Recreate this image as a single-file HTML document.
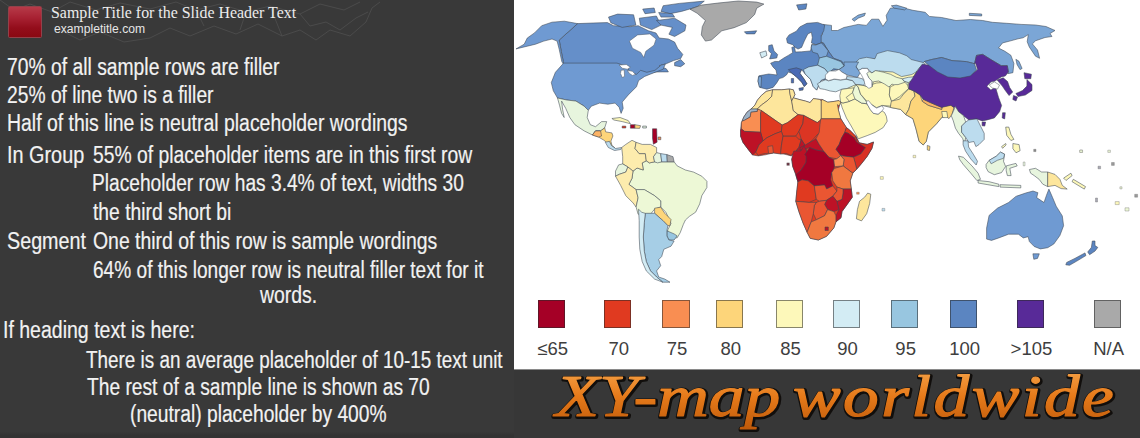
<!DOCTYPE html>
<html><head><meta charset="utf-8"><title>slide</title>
<style>
html,body{margin:0;padding:0}
body{width:1140px;height:438px;overflow:hidden;background:#373737;position:relative;font-family:"Liberation Sans",sans-serif}
#left{position:absolute;left:0;top:0;width:514px;height:438px;background:#393939;overflow:hidden}
#hdr{position:absolute;left:0;top:0;width:514px;height:50px}
#logo{position:absolute;left:7.7px;top:6.3px;width:34.4px;height:31.3px;border:1px solid #93414a;border-radius:1.5px;background:linear-gradient(180deg,#b63a48 0,#a82233 35%,#930d1b 70%,#8a0812 100%);box-sizing:border-box}
#t1{position:absolute;left:51px;top:3.9px;font:16px/18px "Liberation Serif",serif;color:#ececec;white-space:nowrap;transform-origin:0 0;transform:scaleX(.994)}
#t2{position:absolute;left:54px;top:21.6px;font:12px/14px "Liberation Sans",sans-serif;color:#e6e6e6;white-space:nowrap;transform-origin:0 0;transform:scaleX(1.012)}
.ln{position:absolute;font-size:23px;line-height:26px;-webkit-text-stroke:.2px #f2f2f2;color:#f2f2f2;white-space:nowrap;transform-origin:0 0;display:inline-block}
#map{position:absolute;left:514px;top:0;width:626px;height:370px;background:#fff;border-bottom:1px solid #8a8a8a;box-sizing:border-box;overflow:hidden}
#map svg{position:absolute;left:-514px;top:0}
.sw{position:absolute;top:300px;width:27.5px;height:28px;box-sizing:border-box;border:1px solid rgba(40,40,40,.55)}
.lb{position:absolute;top:339.4px;width:67.5px;text-align:center;font-size:18.5px;line-height:20px;color:#3e3e3e}
#ttl{position:absolute;left:514px;top:369px;width:626px;height:69px}
</style></head><body>
<div id="left">
<svg id="hdr" viewBox="0 0 514 50"><g fill="none" stroke="#626262" stroke-width=".8" opacity=".55">
<path d="M0 0 L14 10 30 4 52 12 70 2 96 10 120 3 150 9 176 2"/>
<path d="M150 38 L170 28 190 36 214 26 236 34 258 24 282 36 300 30 316 40 330 30 350 36 366 22 372 8 380 2"/>
<path d="M176 2 L196 10 220 4 246 12 270 6 300 14 320 4 344 10 360 2"/>
<path d="M300 14 L310 26 326 22 340 30 356 18 368 12"/>
<path d="M60 30 L80 40 100 32 124 42 150 38"/>
<path d="M196 10 L204 26 M246 12 L240 30 M270 6 L282 36"/>
</g></svg>
<div id="logo"></div>
<div id="t1">Sample Title for the Slide Header Text</div>
<div id="t2">exampletitle.com</div>
<span class="ln" style="left:7.4px;top:53.9px;transform:scaleX(0.8393)">70% of all sample rows are filler</span>
<span class="ln" style="left:7.4px;top:82.3px;transform:scaleX(0.8370)">25% of line two is a filler</span>
<span class="ln" style="left:7.4px;top:110.0px;transform:scaleX(0.8444)">Half of this line is neutral placeholder wordings</span>
<span class="ln" style="left:7.4px;top:141.7px;transform:scaleX(0.8626)">In Group</span>
<span class="ln" style="left:92.7px;top:141.7px;transform:scaleX(0.8403)">55% of placeholder items are in this first row</span>
<span class="ln" style="left:92.1px;top:170.0px;transform:scaleX(0.8333)">Placeholder row has 3.4% of text, widths 30</span>
<span class="ln" style="left:92.7px;top:199.2px;transform:scaleX(0.8380)">the third short bi</span>
<span class="ln" style="left:7.4px;top:227.7px;transform:scaleX(0.8582)">Segment</span>
<span class="ln" style="left:92.7px;top:227.7px;transform:scaleX(0.8441)">One third of this row is sample wordings</span>
<span class="ln" style="left:93.4px;top:257.3px;transform:scaleX(0.8301)">64% of this longer row is neutral filler text for it</span>
<span class="ln" style="left:259.7px;top:282.3px;transform:scaleX(0.8444)">words.</span>
<span class="ln" style="left:2.9px;top:317.2px;transform:scaleX(0.8484)">If heading text is here:</span>
<span class="ln" style="left:86.3px;top:346.7px;transform:scaleX(0.8207)">There is an average placeholder of 10-15 text unit</span>
<span class="ln" style="left:87.2px;top:373.7px;transform:scaleX(0.8351)">The rest of a sample line is shown as 70</span>
<span class="ln" style="left:130.3px;top:400.7px;transform:scaleX(0.8362)">(neutral) placeholder by 400%</span>
<div style="position:absolute;left:0;top:431px;width:514px;height:7px;background:linear-gradient(180deg,#3a3a3a,#333 60%)"></div>
</div>
<div id="map">
<svg width="1140" height="369" viewBox="0 0 1140 369">
<g stroke="#3c4650" stroke-width=".55" stroke-linejoin="round">
<polygon points="577.6,23.6 593.0,23.0 607.4,22.6 613.6,25.7 630.0,26.7 638.2,25.7 648.5,30.8 656.0,33.0 659.2,38.0 668.4,39.0 674.6,42.1 677.6,48.3 682.8,54.4 680.7,58.5 673.5,60.6 666.3,63.7 659.2,65.7 666.3,68.8 668.4,71.9 662.2,71.9 656.0,72.0 646.8,74.0 636.5,76.0 626.0,68.0 617.0,64.0 563.6,64.0 563.3,61.6 561.3,51.3 559.2,40.0" fill="#658fc9"/>
<polygon points="674.6,62.6 680.7,59.6 684.8,63.7 680.7,66.7 674.6,65.7" fill="#658fc9"/>
<polygon points="608.5,17.1 617.6,14.1 633.6,14.8 635.9,25.1 622.2,27.4 610.8,22.8" fill="#658fc9"/>
<polygon points="639.3,18.2 656.4,16.0 661.0,25.1 651.8,29.6 640.4,25.1" fill="#658fc9"/>
<polygon points="656.4,20.5 674.6,18.2 686.0,25.1 684.9,30.8 674.6,36.5 668.9,34.2 672.4,27.4 661.0,25.1" fill="#658fc9"/>
<polygon points="663.2,5.7 679.2,3.4 704.3,1.1 697.4,6.8 681.5,11.4 670.1,13.7 661.0,11.4" fill="#658fc9"/>
<polygon points="658.7,12.5 672.4,13.7 674.6,17.1 661.0,17.1" fill="#658fc9"/>
<polygon points="642.7,9.1 654.1,8.0 655.3,12.5 645.0,13.7" fill="#658fc9"/>
<polygon points="516.0,48.9 524.2,44.2 527.3,38.0 534.5,32.9 541.7,25.7 552.0,22.2 564.3,21.2 577.6,23.6 559.2,40.0 561.2,51.3 563.3,61.6 564.3,65.7 561.8,61.6 559.2,49.3 557.1,41.1 552.0,39.0 543.8,41.1 535.5,44.2 527.3,46.2" fill="#6f9ad2"/>
<polygon points="563.6,63.1 555.4,72.3 551.3,82.6 553.3,90.8 557.5,98.0 566.7,100.0 575.9,101.1 584.2,106.2 588.3,110.3 591.3,106.2 599.6,103.1 607.8,104.2 615.0,103.1 619.1,107.2 621.1,113.4 623.2,108.3 622.2,102.1 628.3,94.9 636.5,86.7 638.6,80.5 644.7,76.4 655.0,72.3 663.2,69.2 665.3,64.1 661.2,65.1 655.0,70.3 646.8,72.3 640.6,70.3 636.5,74.4 630.4,72.3 626.3,66.2 617.0,63.1" fill="#6f9ad2"/>
<polygon points="557.5,98.0 566.7,100.0 575.9,101.1 584.2,106.2 588.3,110.3 587.2,117.5 590.3,124.7 595.5,126.7 601.6,121.6 606.7,121.6 604.7,127.8 600.6,130.9 595.5,130.9 592.4,135.0 584.2,130.9 574.9,124.7 569.8,117.5 565.7,108.3 561.6,101.1 562.6,109.3 564.2,117.5 561.6,113.4 559.5,105.2" fill="#e7f5de"/>
<polygon points="595.5,130.9 600.6,130.9 604.7,127.8 605.7,131.9 611.9,132.9 612.9,136.0 610.9,141.1 611.9,145.2 615.0,148.3 608.8,144.2 603.7,140.1 598.5,137.0 592.4,135.0" fill="#fdd57a"/>
<polygon points="595.5,130.9 600.6,130.9 601.6,136.0 598.5,137.0 592.4,135.0" fill="#fbb365"/>
<polygon points="605.3,142.3 609.4,141.3 611.4,145.4 615.5,148.5 621.7,147.5 620.7,149.5 614.5,150.5 608.3,147.5" fill="#bcdcee"/>
<polygon points="611.9,118.5 620.1,117.5 628.3,120.6 630.4,123.7 622.2,121.6 613.9,120.0" fill="#fdf8ba"/>
<polygon points="630.4,124.7 634.9,124.7 634.9,128.2 630.4,128.2" fill="#a50026"/>
<polygon points="634.9,124.7 640.6,125.7 639.6,128.4 634.9,128.2" fill="#fdd57a"/>
<polygon points="622.2,126.1 625.8,126.1 625.8,128.0 622.2,128.0" fill="#e03a20"/>
<polygon points="642.7,126.1 646.4,126.1 646.4,128.0 642.7,128.0" fill="#e7f5de"/>
<polygon points="652.5,128.8 656.7,128.8 657.1,142.2 653.4,144.2 652.5,138.0" fill="#a50026"/>
<polygon points="658.1,137.0 660.8,137.0 660.8,139.7 658.1,139.7" fill="#f98e52"/>
<polygon points="690.0,9.2 701.3,5.1 717.7,3.1 738.2,1.0 756.7,2.1 763.9,4.1 756.7,8.2 754.7,14.4 746.4,22.6 734.1,27.7 721.8,30.8 711.5,40.0 705.4,41.1 701.3,34.9 702.3,26.7 705.4,20.5 697.2,13.3" fill="#a9a9a9"/>
<polygon points="744.4,31.8 756.7,30.8 754.7,33.9 746.4,33.9" fill="#5b85c1"/>
<polygon points="654.6,161.8 661.7,161.8 667.3,161.8 674.1,161.8 677.2,165.9 685.4,170.0 693.6,172.1 701.8,176.2 706.9,181.3 706.9,187.5 701.8,195.7 699.7,203.9 695.6,212.2 689.5,216.3 685.4,220.0 683.3,224.5 680.2,232.7 677.2,237.8 674.1,237.8 666.9,234.7 667.9,229.6 671.0,223.4 665.9,212.2 660.7,207.0 660.7,200.9 654.6,195.7 644.3,189.6 636.1,189.6 628.9,184.4 632.0,178.3 633.0,171.1 637.1,168.0 643.3,170.0 642.2,162.9 646.3,160.8 649.4,162.9" fill="#edf8d6"/>
<polygon points="621.7,147.5 625.8,144.4 632.0,140.3 636.1,142.3 635.0,148.5 639.2,153.6 645.3,153.6 646.3,160.8 642.2,162.9 643.3,170.0 637.1,168.0 633.0,171.1 627.9,167.0 622.7,163.9 622.7,156.7" fill="#fdecad"/>
<polygon points="636.1,142.3 642.2,144.4 650.5,144.4 656.6,147.5 656.6,152.6 653.5,156.7 654.6,161.8 649.4,162.9 646.3,160.8 645.3,153.6 639.2,153.6 635.0,148.5" fill="#fdecad"/>
<polygon points="656.6,152.6 660.7,153.6 661.7,161.8 657.6,162.9 654.6,161.8 653.5,156.7" fill="#e7f5de"/>
<polygon points="660.7,153.6 666.9,154.6 667.3,161.8 661.7,161.8" fill="#bcdcee"/>
<polygon points="666.9,154.6 673.0,156.7 674.1,161.8 667.3,161.8" fill="#a9a9a9"/>
<polygon points="622.7,163.9 627.9,167.0 625.8,172.1 619.6,174.2 615.5,176.2 615.5,171.1 618.6,164.9" fill="#e7f5de"/>
<polygon points="615.5,176.2 619.6,174.2 625.8,172.1 627.9,167.0 633.0,171.1 632.0,178.3 628.9,184.4 636.1,189.6 638.1,197.8 636.1,207.0 633.0,202.9 625.8,195.7 620.7,185.5" fill="#fdecad"/>
<polygon points="636.1,189.6 644.3,189.6 654.6,195.7 660.7,200.9 660.7,207.0 654.6,209.1 650.5,214.2 642.2,214.2 638.1,214.2 636.1,207.0 638.1,197.8" fill="#edf8d6"/>
<polygon points="654.6,208.2 660.7,207.2 664.8,213.3 671.0,219.5 670.0,225.7 667.9,225.7 662.8,220.5 654.6,213.3" fill="#fdd57a"/>
<polygon points="666.9,230.8 674.1,233.9 677.2,235.9 674.1,240.0 668.9,240.0 666.9,235.9" fill="#98c6e0"/>
<polygon points="645.3,213.3 654.6,213.3 662.8,220.5 667.9,225.7 666.9,230.8 666.9,235.9 668.9,240.0 674.1,241.1 671.0,246.2 663.8,249.3 661.7,256.5 658.7,259.6 660.7,265.7 656.6,270.9 658.7,277.0 664.8,279.1 670.0,282.2 662.8,282.2 656.6,277.0 650.5,270.9 646.3,261.6 644.3,251.3 643.3,237.0 644.3,222.6" fill="#a6cee6"/>
<polygon points="638.5,209.2 641.8,212.3 645.3,213.3 644.3,222.6 643.3,237.0 644.3,251.3 646.3,261.6 650.5,270.9 656.6,277.0 662.8,282.2 654.6,279.1 646.3,270.9 642.2,261.6 639.8,249.3 639.2,237.0 639.2,220.5" fill="#d3ecf4"/>
<polygon points="823.3,24.4 831.5,25.4 831.5,30.5 837.7,30.5 843.9,27.5 858.2,24.4 866.4,25.4 871.6,19.2 878.8,19.2 882.9,26.4 887.0,20.3 886.2,15.4 890.3,8.2 900.5,7.2 912.9,10.3 925.2,12.3 929.3,16.4 941.6,17.5 956.0,20.5 970.4,19.5 982.7,20.5 992.3,22.3 1006.7,23.3 1021.1,24.4 1035.5,25.0 1046.0,26.5 1055.0,30.5 1050.0,33.5 1052.0,36.5 1045.0,37.5 1035.5,40.8 1032.4,43.9 1037.5,50.0 1039.6,58.3 1035.5,56.2 1029.3,47.0 1027.2,41.8 1028.3,34.6 1023.1,37.8 1018.0,38.8 1010.8,40.8 1002.6,42.9 998.5,48.0 1004.6,51.1 1010.8,55.2 1013.9,63.4 1012.9,72.7 1007.7,73.7 1008.4,71.9 1007.3,65.7 1001.2,65.7 990.9,59.6 982.7,54.4 976.5,55.4 974.5,63.7 966.3,61.6 951.9,60.6 941.6,57.5 931.3,59.6 924.2,61.6 922.0,64.0 908.0,59.0 893.0,56.0 878.0,58.0 866.0,60.0 858.2,62.0 863.4,62.4 866.4,67.5 862.3,69.6 856.2,70.6 850.0,72.6 843.9,67.5 841.8,61.3 833.6,58.3 828.4,51.1 823.3,42.9 817.2,40.8 822.3,34.6" fill="#7ba6d6"/>
<polygon points="852.1,19.2 858.2,15.1 865.4,13.1 864.4,15.8 858.2,18.2 854.1,21.3" fill="#7ba6d6"/>
<polygon points="796.6,4.9 806.9,3.8 805.9,9.0 798.7,10.0" fill="#5b85c1"/>
<polygon points="891.3,5.8 896.4,5.1 906.7,8.2 904.6,9.9 894.4,8.2" fill="#7ba6d6"/>
<polygon points="969.3,13.3 981.7,14.0 981.7,16.0 969.3,15.4" fill="#7ba6d6"/>
<polygon points="1015.9,59.3 1019.0,61.3 1022.1,68.5 1020.0,69.6 1017.0,64.4" fill="#7ba6d6"/>
<polygon points="759.8,87.4 758.0,81.2 758.9,75.8 768.7,74.0 777.0,75.0 776.0,70.0 773.0,67.0 770.6,63.2 774.9,61.4 778.5,61.6 783.8,58.0 788.3,55.4 792.7,52.7 791.8,47.4 794.5,46.5 795.4,52.0 801.6,51.8 810.5,50.9 811.2,47.9 811.7,44.7 815.8,44.9 821.2,42.9 823.3,42.9 828.4,51.1 833.6,58.3 841.8,61.3 844.3,66.0 839.0,69.6 831.9,70.5 826.5,74.0 826.5,79.4 821.2,80.3 818.5,85.6 816.7,90.1 813.2,86.5 810.5,79.4 805.2,74.0 801.6,69.6 799.8,73.2 804.3,79.4 806.9,83.8 804.3,86.5 801.6,82.1 796.3,76.7 791.8,73.2 788.3,72.0 786.5,74.9 782.9,77.6 779.4,78.5 776.7,82.9 773.1,87.4 766.9,89.2" fill="#5b85c1"/>
<polygon points="786.5,38.5 789.1,34.9 796.3,31.3 799.8,26.9 806.9,23.3 817.6,22.4 824.7,25.1 823.8,30.5 821.2,35.8 821.2,42.9 815.8,44.7 811.4,42.9 812.3,37.6 811.4,32.2 807.8,34.0 804.3,41.1 801.6,47.4 798.0,49.1 795.4,47.4 792.7,44.7 787.4,42.9" fill="#5b85c1"/>
<polygon points="758.5,76.7 761.6,76.7 761.0,87.0 759.3,87.0 758.0,81.2" fill="#7ba6d6"/>
<polygon points="768.7,45.6 772.2,44.7 774.0,50.9 777.6,54.5 776.7,58.0 769.6,58.9 771.4,53.6 768.7,50.9" fill="#5b85c1"/>
<polygon points="759.8,52.7 766.0,50.9 766.9,55.4 761.6,58.0" fill="#d3ecf4"/>
<polygon points="788.3,69.6 796.3,67.8 801.6,69.6 799.8,73.2 804.3,79.4 806.9,83.8 804.3,86.5 801.6,82.1 796.3,76.7 791.8,73.2" fill="#4a6ab4"/>
<polygon points="798.9,88.3 803.4,87.4 803.0,90.1 799.5,90.6" fill="#4a6ab4"/>
<polygon points="791.3,78.5 793.6,78.5 793.6,82.9 791.3,82.9" fill="#4a6ab4"/>
<polygon points="811.7,44.7 815.8,45.0 821.2,42.9 823.3,44.7 828.3,50.9 826.5,56.3 819.4,58.0 817.6,53.6 812.6,52.2 811.2,47.9" fill="#7ba6d6"/>
<polygon points="817.6,65.2 819.4,58.0 826.5,56.3 833.6,58.9 840.7,61.6 844.3,66.0 839.0,69.6 833.6,68.7 828.3,73.2 824.7,68.7" fill="#98c6e0"/>
<polygon points="808.7,66.9 817.6,65.2 824.7,68.7 828.3,73.2 825.6,78.5 821.2,80.3 818.5,85.6 816.7,90.1 813.2,86.5 810.5,79.4 805.2,74.0 803.4,69.6" fill="#bcdcee"/>
<polygon points="817.4,83.8 821.4,81.4 825.4,79.8 828.6,80.9 834.2,79.3 840.6,80.1 846.2,79.3 852.6,80.6 855.8,84.6 854.2,87.8 847.0,88.6 841.4,89.4 835.8,91.8 830.2,91.0 824.6,89.4 819.8,88.6" fill="#d3ecf4"/>
<polygon points="847.0,76.6 857.4,77.4 863.0,79.0 865.4,83.0 863.0,85.4 855.8,84.6 852.6,80.6 846.2,79.0" fill="#bcdcee"/>
<polygon points="855.6,62.5 859.3,58.8 866.7,57.3 874.9,58.8 877.1,53.6 887.5,50.6 899.4,52.8 906.8,55.8 911.3,59.5 923.1,62.5 925.4,63.9 920.2,66.9 916.5,71.4 915.7,76.6 908.3,77.3 902.4,78.8 896.4,77.3 890.5,74.3 883.1,72.1 875.6,70.6 871.9,72.9 869.7,70.6 867.5,68.4 862.3,68.4 858.6,70.6 856.3,66.9" fill="#bcdcee"/>
<polygon points="839.0,69.6 844.3,66.0 843.9,62.0 858.6,62.0 856.0,66.9 858.6,70.6 861.0,71.5 857.4,77.4 847.0,75.0 841.4,71.8" fill="#7ba6d6"/>
<polygon points="840.6,102.2 843.6,96.3 845.6,89.1 855.8,84.6 863.0,85.4 868.6,87.0 871.8,84.6 871.0,80.6 875.8,75.8 879.0,71.0 893.0,72.0 901.6,76.6 911.9,74.5 917.0,71.4 910.9,80.7 908.8,88.9 913.9,90.9 920.1,95.0 923.2,99.2 930.4,102.6 941.7,107.4 950.9,105.3 954.0,107.4 951.9,114.6 941.7,117.6 936.5,123.8 928.3,132.0 926.3,141.3 923.2,145.0 919.1,141.3 916.0,128.9 912.9,118.7 905.7,114.6 900.6,109.4 890.3,107.4 882.2,105.4 876.6,107.8 871.8,104.6 867.0,103.8 861.4,103.0 855.0,99.0 849.4,101.4 843.0,103.0" fill="#fdf8ba"/>
<polygon points="840.6,102.2 843.0,103.0 849.4,101.4 855.0,99.0 861.4,103.0 867.0,103.8 870.2,109.4 873.4,113.4 878.2,114.2 882.2,111.0 884.5,112.5 886.4,116.4 887.2,121.2 883.2,127.6 875.2,132.4 867.2,135.6 858.4,138.8 855.2,133.2 851.2,126.0 846.4,118.0 842.2,107.8" fill="#fdf8ba"/>
<polygon points="841.4,89.4 847.0,88.6 854.2,87.8 852.6,92.6 846.2,97.4 849.4,101.4 843.0,103.0 840.6,102.2 839.8,95.8 840.6,91.8" fill="#fdf8ba"/>
<polygon points="854.2,87.8 855.8,84.6 858.2,87.0 860.6,94.2 866.2,101.4 867.0,103.8 861.4,103.0 855.0,99.0 852.6,92.6" fill="#edf8d6"/>
<polygon points="855.8,84.6 863.0,85.4 868.5,87.0 871.7,84.6 876.5,83.0 885.3,82.2 890.1,87.0 889.3,95.0 891.7,101.4 890.9,106.2 882.1,105.4 876.5,107.7 871.7,104.6 867.0,101.4 860.6,94.2 858.2,87.0" fill="#fdf8ba"/>
<polygon points="871.9,72.9 875.6,70.6 883.1,72.1 890.5,74.3 896.4,77.3 902.4,78.8 903.8,81.0 908.3,82.5 907.5,86.2 902.4,85.5 897.9,87.0 892.0,84.0 889.0,87.0 884.5,84.0 878.6,81.0 873.4,81.8 871.9,87.0 871.9,81.0 868.9,78.1 866.7,73.6 868.9,71.4" fill="#edf8d6"/>
<polygon points="902.4,78.8 908.3,77.3 915.7,76.6 914.2,79.5 908.3,82.5 903.8,81.0" fill="#d3ecf4"/>
<polygon points="890.1,87.0 894.9,84.6 898.1,84.6 905.0,82.2 907.7,85.4 908.5,88.6 905.0,91.8 899.7,96.6 891.7,101.4 889.3,95.0" fill="#fdf8ba"/>
<polygon points="891.3,101.2 899.6,99.2 903.7,94.0 908.8,88.9 913.9,90.9 915.0,96.1 910.9,101.2 908.8,109.4 905.7,114.6 900.6,109.4 890.3,107.4" fill="#fde69c"/>
<polygon points="908.8,109.4 910.9,101.2 915.0,96.1 913.9,90.9 920.1,95.0 922.2,101.2 928.3,105.3 941.7,109.4 942.7,106.3 950.9,105.3 954.0,107.4 951.9,114.6 948.9,118.7 944.7,114.6 941.7,117.6 936.5,123.8 928.3,132.0 926.3,141.3 923.2,145.0 919.1,141.3 916.0,128.9 912.9,118.7 905.7,114.6" fill="#fdd57a"/>
<polygon points="922.2,101.2 928.3,105.3 941.7,109.4 941.7,107.4 930.4,102.6 923.2,99.2" fill="#fbb365"/>
<polygon points="941.7,111.5 946.8,111.5 947.8,117.6 942.7,117.6" fill="#fdf8ba"/>
<polygon points="927.3,145.4 930.0,146.4 929.5,150.5 927.3,149.9" fill="#fdd57a"/>
<polygon points="908.8,83.8 910.9,80.7 917.0,71.4 922.2,64.2 930.4,65.3 936.5,70.4 946.8,75.5 959.1,77.6 971.4,74.5 977.6,69.4 975.6,63.2 974.5,63.7 976.5,55.4 982.7,54.4 990.9,59.6 1001.2,65.7 1007.3,65.7 1008.4,71.9 1005.3,76.0 1001.2,77.0 995.0,81.1 990.9,82.1 986.8,86.3 990.9,90.0 995.5,87.1 998.5,97.3 1001.6,105.5 999.6,111.7 994.4,117.9 987.2,119.9 982.1,120.9 977.0,118.9 968.8,119.9 963.6,115.8 958.5,111.7 955.4,106.6 954.0,107.4 950.9,105.3 941.7,107.4 930.4,102.6 923.2,99.2 920.1,95.0 913.9,90.9 908.8,88.9" fill="#582a98"/>
<polygon points="924.2,61.6 931.3,59.6 941.6,57.5 951.9,60.6 966.3,61.6 974.5,63.7 976.5,69.8 970.4,76.0 960.1,78.0 947.8,77.0 937.5,71.9 929.3,65.7" fill="#5b85c1"/>
<polygon points="997.2,80.1 1003.2,77.8 1007.6,81.6 1009.7,87.6 1012.7,92.0 1009.1,95.6 1005.3,90.5 1002.3,86.1" fill="#582a98"/>
<polygon points="1024.0,72.7 1031.4,74.2 1030.8,78.7 1024.8,78.7" fill="#582a98"/>
<polygon points="1026.9,79.5 1032.0,84.6 1032.0,90.5 1025.4,95.0 1018.0,96.5 1015.9,93.5 1022.5,90.5 1026.9,86.1" fill="#582a98"/>
<polygon points="1013.5,95.5 1017.5,97.0 1016.0,101.0 1012.8,99.5" fill="#582a98"/>
<polygon points="1002.6,112.7 1005.3,112.7 1004.7,118.9 1002.2,117.9" fill="#582a98"/>
<polygon points="982.1,122.0 985.6,122.0 984.8,126.1 982.1,125.7" fill="#582a98"/>
<polygon points="955.4,106.6 958.5,111.7 963.6,115.8 965.7,122.0 961.6,126.1 961.6,132.2 965.7,137.4 964.6,144.6 962.6,138.4 958.5,133.3 955.4,128.1 953.3,120.9 951.3,115.8" fill="#e7f5de"/>
<polygon points="965.7,122.0 968.8,119.9 977.0,118.9 980.0,125.0 984.2,133.3 984.2,139.4 979.0,144.6 975.9,146.6 973.9,141.5 968.8,142.5 965.7,137.4 961.6,132.2 961.6,126.1" fill="#bcdcee"/>
<polygon points="963.1,140.8 968.0,140.8 968.6,147.0 973.3,154.2 977.5,161.3 976.2,165.0 970.7,158.9 965.5,151.1 963.1,144.9" fill="#bcdcee"/>
<polygon points="958.5,156.1 963.4,157.3 972.0,165.9 978.1,173.2 980.5,179.3 976.9,180.5 970.8,173.2 963.4,164.7 959.8,159.8" fill="#e7f5de"/>
<polygon points="978.1,180.5 989.1,181.7 998.8,184.2 998.8,186.6 987.9,184.7 978.1,183.0" fill="#e7f5de"/>
<polygon points="1000.1,184.7 1020.8,185.4 1020.8,187.9 1000.1,187.1" fill="#e7f5de"/>
<polygon points="986.1,164.4 989.2,160.3 996.3,156.2 1000.5,152.1 1004.6,154.2 1003.5,161.3 1005.6,166.5 1001.5,172.6 994.3,174.7 988.1,171.6 986.1,167.5" fill="#e7f5de"/>
<polygon points="989.2,160.3 996.3,156.2 1000.5,152.1 1004.6,154.2 1003.5,158.3 997.4,160.3 991.2,163.8" fill="#bcdcee"/>
<polygon points="1006.2,165.9 1015.9,163.4 1017.2,165.9 1009.8,168.3 1011.1,175.6 1007.4,175.6 1006.2,170.8" fill="#e7f5de"/>
<polygon points="1029.4,169.5 1035.5,168.3 1041.6,172.0 1047.7,172.0 1047.7,186.6 1042.8,184.2 1039.1,179.3 1034.2,175.6 1030.6,173.2" fill="#e7f5de"/>
<polygon points="1047.7,172.0 1055.0,174.4 1059.9,179.3 1062.3,185.4 1067.2,189.1 1061.1,188.6 1055.0,185.4 1047.7,186.6" fill="#fde69c"/>
<polygon points="1063.6,178.1 1070.9,173.2 1072.1,175.6 1066.0,180.5" fill="#fdf8ba"/>
<polygon points="1073.3,179.3 1085.5,186.6 1084.3,189.1 1072.1,181.7" fill="#fdf8ba"/>
<polygon points="1005.7,127.1 1008.8,127.1 1010.9,134.3 1013.9,139.4 1010.9,140.5 1006.7,135.3" fill="#fdf8ba"/>
<polygon points="1012.9,143.5 1019.1,144.6 1020.1,150.7 1016.0,152.8 1012.9,148.7" fill="#fdf8ba"/>
<polygon points="1001.6,146.6 1005.7,143.5 1006.1,145.0 1002.6,148.3" fill="#fdf8ba"/>
<polygon points="986.6,239.1 986.6,228.1 989.1,215.4 997.6,208.1 1008.6,202.5 1015.9,196.4 1025.7,193.0 1033.0,191.0 1037.9,192.7 1036.7,197.6 1044.0,202.5 1046.5,195.2 1048.9,189.1 1052.6,197.6 1056.2,206.2 1062.3,215.9 1063.6,225.7 1059.9,235.5 1053.8,244.0 1047.7,247.7 1040.4,248.9 1034.2,246.5 1029.4,241.6 1028.1,236.7 1023.3,237.9 1018.4,234.2 1008.6,234.2 998.8,237.9 991.5,240.4" fill="#6f9ad2"/>
<polygon points="1032.9,253.8 1039.3,253.8 1037.5,258.4 1033.8,259.3" fill="#6f9ad2"/>
<polygon points="1092.3,241.0 1095.0,241.0 1095.0,245.6 1097.8,247.4 1095.0,251.1 1089.6,254.7 1087.7,252.0 1091.4,247.4" fill="#5b85c1"/>
<polygon points="1085.0,252.9 1085.9,255.6 1076.8,261.1 1069.5,265.3 1065.8,264.8 1066.7,262.4 1074.9,258.4" fill="#5b85c1"/>
<polygon points="741.4,122.6 743.8,117.0 747.0,112.2 751.0,109.0 755.0,105.0 757.4,100.2 761.4,95.4 766.2,91.4 772.6,89.8 781.4,89.8 789.4,89.0 793.3,89.8 795.0,94.6 793.3,97.8 799.0,99.4 805.3,101.0 810.1,102.6 813.3,98.6 819.7,99.4 822.0,99.4 827.8,102.2 834.2,101.4 839.0,100.6 840.6,102.2 839.3,106.0 838.4,110.0 840.8,118.8 846.4,127.6 849.6,130.0 856.0,136.4 859.2,142.8 867.2,144.4 873.6,142.0 872.0,148.4 867.2,156.4 861.6,163.6 856.8,169.2 852.8,173.2 850.2,180.8 851.3,189.0 852.3,197.2 847.2,204.4 842.0,211.6 841.0,217.8 835.9,221.9 833.8,228.0 826.6,236.3 818.4,240.0 810.2,238.3 807.1,232.2 803.0,222.9 798.9,211.6 795.8,201.3 796.8,191.1 797.9,181.8 795.8,174.6 792.7,166.4 791.7,159.2 794.3,153.5 791.2,155.9 783.0,153.8 773.8,152.8 765.5,154.8 758.3,155.9 752.6,155.0 747.8,148.9 743.0,142.5 740.6,136.2 740.6,129.8" fill="#e03a20"/>
<polygon points="751.0,109.0 755.0,105.0 757.4,100.2 761.4,95.4 766.2,91.4 772.6,89.8 771.8,96.2 767.0,101.0 761.4,105.0 757.4,109.0" fill="#fde69c"/>
<polygon points="743.8,117.0 747.0,112.2 751.0,109.0 757.4,109.0 757.4,111.4 751.0,112.2 750.2,117.0 744.6,120.2 742.2,121.0" fill="#9eb2c6"/>
<polygon points="772.6,89.8 781.4,89.8 789.3,89.0 790.1,94.6 791.7,101.0 793.3,110.6 798.1,114.6 787.7,122.6 782.2,125.0 777.4,121.8 761.4,110.6 757.4,109.0 761.4,105.0 767.0,101.0 771.8,96.2" fill="#fde69c"/>
<polygon points="789.3,89.0 793.3,89.8 794.9,94.6 793.3,97.8 791.7,101.0 790.1,94.6" fill="#fde69c"/>
<polygon points="793.3,97.8 798.9,99.4 805.3,101.0 810.1,102.6 813.3,98.6 819.7,99.4 821.3,101.0 821.3,119.4 817.3,122.6 803.7,115.4 798.1,114.6 793.3,110.6 791.7,101.0" fill="#fde69c"/>
<polygon points="821.3,101.0 822.0,99.4 827.8,102.2 834.2,101.4 839.0,100.6 840.6,102.2 839.3,106.0 837.4,104.6 838.4,110.0 840.8,118.8 821.3,118.8" fill="#fdd57a"/>
<polygon points="742.2,121.0 744.6,120.2 750.2,117.0 751.0,112.2 757.4,111.4 757.4,109.0 761.4,110.6 760.6,113.0 760.6,132.2 744.6,131.4 741.4,129.0 741.4,122.6" fill="#f98e52"/>
<polygon points="761.4,110.6 777.4,121.8 782.2,125.0 781.4,131.4 775.0,133.8 767.0,137.7 763.0,140.9 760.6,132.2 760.6,113.0" fill="#e03a20"/>
<polygon points="782.2,125.0 787.7,122.6 798.1,114.6 803.7,115.4 802.9,123.4 798.9,131.4 795.7,136.2 783.0,136.2 781.4,131.4" fill="#e03a20"/>
<polygon points="803.7,115.4 817.3,122.6 821.3,119.4 822.1,126.6 821.3,133.0 817.3,134.6 811.7,140.9 805.3,145.7 801.3,139.3 798.9,131.4 802.9,123.4" fill="#dc3523"/>
<polygon points="741.4,129.0 744.6,131.4 760.6,132.2 763.0,140.9 759.0,144.9 755.8,152.1 752.6,155.0 747.8,148.9 743.0,142.5 740.6,136.2 740.6,129.8" fill="#bd1226"/>
<polygon points="763.0,140.9 767.0,137.7 775.0,133.8 781.4,131.4 783.0,136.2 781.4,145.7 780.6,154.1 773.4,152.9 763.8,153.7 758.2,155.3 755.8,152.1 759.0,144.9" fill="#e03a20"/>
<polygon points="767.8,146.5 772.6,145.7 773.4,152.9 768.6,153.7" fill="#ea5632"/>
<polygon points="783.0,136.2 795.7,136.2 798.9,139.3 801.3,139.3 798.9,147.3 794.5,152.9 790.9,155.3 786.2,153.4 780.6,154.1 781.4,145.7" fill="#e03a20"/>
<polygon points="799.0,147.4 801.3,139.4 805.3,145.8 806.4,150.0 804.6,154.8 802.5,161.0 793.3,161.0 794.3,153.5 794.8,152.5" fill="#bd1226"/>
<polygon points="800.0,147.6 806.4,144.4 816.0,138.8 819.2,144.4 824.0,151.6 816.0,150.0 809.6,147.6 804.8,149.2 800.0,150.0" fill="#bd1226"/>
<polygon points="820.8,118.8 840.8,118.8 846.4,127.6 844.8,132.4 841.6,138.0 839.2,144.4 836.0,149.2 840.8,155.6 836.8,158.8 828.8,157.2 824.0,151.6 819.2,144.4 816.0,138.8 819.2,132.4 820.0,124.4" fill="#ea5632"/>
<polygon points="846.4,127.6 849.6,130.0 855.9,136.4 854.3,138.0 848.0,133.2 844.8,132.4" fill="#e03a20"/>
<polygon points="844.8,132.4 848.0,133.2 854.3,138.0 856.7,142.0 865.5,147.6 860.7,154.0 853.5,157.2 846.4,156.4 840.8,155.6 836.0,149.2 839.2,144.4 841.6,138.0" fill="#a50026"/>
<polygon points="855.9,136.4 859.1,142.8 867.1,144.4 873.5,142.0 871.9,148.4 867.1,156.4 861.5,163.5 856.7,169.1 855.1,162.7 853.5,157.2 860.7,154.0 865.5,147.6 856.7,142.0" fill="#d93024"/>
<polygon points="840.8,155.6 846.4,156.4 853.5,157.2 855.1,162.7 856.7,169.1 852.7,173.1 843.2,165.9 844.0,159.6" fill="#ea5632"/>
<polygon points="833.6,159.6 836.8,158.8 840.8,155.6 844.0,159.6 843.2,165.9 834.4,166.7" fill="#f98e52"/>
<polygon points="791.7,159.2 792.7,166.4 795.8,174.6 797.9,181.8 802.0,179.8 800.9,170.5 806.1,162.3 807.1,152.1 804.0,145.9 800.9,151.0 793.8,151.0 792.7,154.1" fill="#bd1226"/>
<polygon points="804.6,154.8 809.6,147.6 816.0,150.0 824.0,151.6 828.8,157.2 833.6,159.6 834.4,166.8 832.0,175.0 831.7,172.6 830.7,179.8 832.8,185.9 826.6,189.0 824.6,184.9 814.3,185.9 808.1,180.8 802.0,179.8 797.9,181.8 795.8,174.6 800.9,170.5 806.1,162.3 806.1,156.0" fill="#a50026"/>
<polygon points="797.9,181.8 802.0,179.8 808.1,180.8 814.3,185.9 816.3,199.3 809.2,202.4 795.8,201.3 796.8,191.1" fill="#e03a20"/>
<polygon points="814.3,185.9 824.6,184.9 826.6,189.0 832.8,185.9 836.9,191.1 832.8,196.2 826.6,200.3 819.4,201.3 816.3,199.3" fill="#ea5632"/>
<polygon points="834.4,168.4 843.2,166.0 852.8,173.2 850.2,180.8 851.3,189.0 843.0,189.0 836.9,187.0 832.8,180.8 831.7,172.6" fill="#f07840"/>
<polygon points="851.3,189.0 852.3,197.2 847.2,204.4 842.0,211.6 841.0,217.8 835.9,221.9 835.9,215.7 838.9,209.6 836.9,201.3 842.0,199.3 843.0,193.1 843.0,189.0" fill="#bd1226"/>
<polygon points="836.9,187.0 843.0,189.0 843.0,193.1 842.0,199.3 836.9,201.3 832.8,196.2 836.9,191.1" fill="#ea5632"/>
<polygon points="826.6,200.3 832.8,196.2 836.9,201.3 838.9,209.6 833.8,211.6 827.6,209.6 824.6,204.4" fill="#bd1226"/>
<polygon points="816.3,202.4 819.4,201.3 826.6,200.3 824.6,204.4 827.6,209.6 824.6,215.7 816.3,219.8 813.3,213.7 814.3,205.5" fill="#ea5632"/>
<polygon points="795.8,201.3 809.2,202.4 816.3,202.4 814.3,205.5 813.3,213.7 811.2,221.9 807.1,232.2 803.0,222.9 798.9,211.6" fill="#ea5632"/>
<polygon points="807.1,232.2 811.2,221.9 816.3,219.8 824.6,215.7 827.6,209.6 833.8,211.6 835.9,215.7 835.9,221.9 833.8,228.0 826.6,236.3 818.4,240.0 810.2,238.3" fill="#f07840"/>
<polygon points="825.0,227.0 828.3,227.0 828.3,230.5 825.0,230.5" fill="#bd1226"/>
<polygon points="867.7,193.1 870.8,194.2 869.7,203.4 866.7,213.7 861.5,220.9 856.4,218.8 857.4,209.6 859.5,201.3 864.6,197.2" fill="#fde69c"/>
<polygon points="629.4,41.1 637.6,34.9 649.9,33.9 656.1,39.0 654.0,45.2 645.8,51.3 643.8,57.5 640.7,52.4 632.5,48.3" fill="#fff" stroke="#4a5560" stroke-width=".5"/>
<polygon points="619.1,65.1 626.3,64.5 630.4,67.2 627.3,69.2 622.2,68.2" fill="#fff" stroke="#4a5560" stroke-width=".5"/>
<polygon points="621.1,70.3 624.2,69.9 624.6,76.4 622.2,77.5 620.5,73.3" fill="#fff" stroke="#4a5560" stroke-width=".5"/>
<polygon points="627.3,70.3 632.4,71.3 635.5,74.4 632.4,75.4 629.3,73.3" fill="#fff" stroke="#4a5560" stroke-width=".5"/>
<polygon points="825.4,75.0 829.4,71.0 835.8,71.0 839.0,69.4 841.4,71.8 847.0,75.0 846.2,79.0 840.6,79.8 834.2,79.0 828.6,80.6 825.4,79.0" fill="#fff" stroke="#4a5560" stroke-width=".5"/>
<polygon points="866.2,101.4 868.5,100.6 872.5,105.4 876.5,108.1 882.1,105.8 883.7,108.5 882.1,110.9 878.1,114.1 873.3,113.3 870.1,109.3 867.0,103.8" fill="#fff" stroke="#4a5560" stroke-width=".5"/>
<polygon points="858.6,70.6 862.3,68.4 867.5,68.4 868.9,71.4 866.7,73.6 868.9,78.1 871.9,81.0 871.9,87.0 868.9,88.4 865.2,85.5 863.8,79.5 861.5,75.1" fill="#fff" stroke="#4a5560" stroke-width=".5"/>
<polygon points="989.2,85.0 994.4,81.9 999.5,85.0 997.5,89.1 992.3,88.0" fill="#fff" stroke="#4a5560" stroke-width=".5"/>
<rect x="786.8" y="162.9" width="2.6" height="2.5" fill="#6a3040" stroke-width=".4" stroke="#777"/>
<rect x="880.3" y="176.6" width="3.0" height="2.7" fill="#fdf8ba" stroke-width=".4" stroke="#777"/>
<rect x="856.6" y="192.2" width="2.6" height="2.0" fill="#f98e52" stroke-width=".4" stroke="#777"/>
<rect x="882.0" y="208.4" width="2.8" height="2.6" fill="#bcdcee" stroke-width=".4" stroke="#777"/>
<rect x="913.1" y="155.3" width="2.6" height="2.4" fill="#fdf8ba" stroke-width=".4" stroke="#777"/>
<rect x="1033.7" y="149.3" width="2.3" height="2.3" fill="#8a8a8a" stroke-width=".4" stroke="#777"/>
<rect x="1080.0" y="150.0" width="2.4" height="2.4" fill="#edf8d6" stroke-width=".4" stroke="#777"/>
<rect x="1023.2" y="162.0" width="1.8" height="3.8" fill="#e7f5de" stroke-width=".4" stroke="#777"/>
<rect x="1079.6" y="150.2" width="3.0" height="2.2" fill="#edf8d6" stroke-width=".4" stroke="#777"/>
<rect x="1107.8" y="150.2" width="2.6" height="2.2" fill="#edf8d6" stroke-width=".4" stroke="#777"/>
<rect x="1111.5" y="162.5" width="2.8" height="2.9" fill="#9a9a9a" stroke-width=".4" stroke="#777"/>
<rect x="1098.0" y="166.2" width="2.6" height="2.6" fill="#a8a8b4" stroke-width=".4" stroke="#777"/>
<rect x="1119.9" y="186.8" width="2.1" height="2.1" fill="#edf8d6" stroke-width=".4" stroke="#777"/>
<rect x="1134.7" y="194.3" width="2.9" height="2.9" fill="#9a9a9a" stroke-width=".4" stroke="#777"/>
<rect x="1095.5" y="198.0" width="2.0" height="4.0" fill="#a8a8b4" stroke-width=".4" stroke="#777"/>
<rect x="1115.2" y="201.6" width="4.0" height="3.0" fill="#fdf8ba" stroke-width=".4" stroke="#777"/>
<rect x="1125.0" y="207.8" width="4.0" height="3.2" fill="#edf8d6" stroke-width=".4" stroke="#777"/>
</g>
</svg>
</div>
<div class="sw" style="left:537.7px;background:#a50026"></div><div class="lb" style="left:518.9px">≤65</div>
<div class="sw" style="left:603.8px;background:#e03a20"></div><div class="lb" style="left:585.0px">70</div>
<div class="sw" style="left:662.0px;background:#f98e52"></div><div class="lb" style="left:643.2px">75</div>
<div class="sw" style="left:715.8px;background:#fdd57a"></div><div class="lb" style="left:697.0px">80</div>
<div class="sw" style="left:775.6px;background:#fdf8ba"></div><div class="lb" style="left:756.8px">85</div>
<div class="sw" style="left:832.6px;background:#d3ecf4"></div><div class="lb" style="left:813.8px">90</div>
<div class="sw" style="left:890.7px;background:#98c6e0"></div><div class="lb" style="left:871.9px">95</div>
<div class="sw" style="left:949.7px;background:#5b85c1"></div><div class="lb" style="left:930.9px">100</div>
<div class="sw" style="left:1016.5px;background:#582a98"></div><div class="lb" style="left:997.7px">>105</div>
<div class="sw" style="left:1093.7px;background:#a9a9a9"></div><div class="lb" style="left:1074.9px">N/A</div>
<svg id="ttl" viewBox="514 369 626 69">
<defs><linearGradient id="og" x1="0" y1="0" x2="0" y2="1"><stop offset="0" stop-color="#f8a84e"/><stop offset=".5" stop-color="#e67a1a"/><stop offset="1" stop-color="#bf5a0a"/></linearGradient></defs>
<g font-family="'Liberation Serif',serif" font-style="italic" font-size="59">
<g fill="#0b0805" stroke="#0b0805" stroke-width="4.2" stroke-linejoin="round" opacity=".85" transform="translate(.8,1.2)">
<text transform="translate(555.5,416.2) scale(1.21,1)" x="0" y="0">XY-map</text>
<text transform="translate(793,416.2) scale(1.21,1)" x="0" y="0" letter-spacing="2">worldwide</text>
</g>
<g fill="url(#og)" stroke="url(#og)" stroke-width="1.2" stroke-linejoin="round">
<text transform="translate(555.5,416.2) scale(1.21,1)" x="0" y="0">XY-map</text>
<text transform="translate(793,416.2) scale(1.21,1)" x="0" y="0" letter-spacing="2">worldwide</text>
</g>
</g>
</svg>
</body></html>
